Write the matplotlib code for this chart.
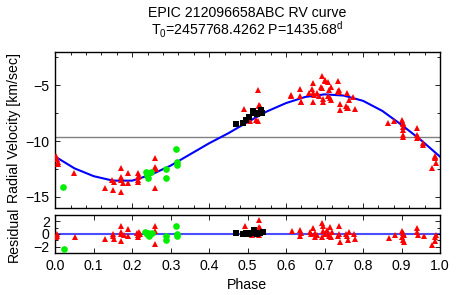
import numpy as np
import matplotlib
matplotlib.use("Agg")
from matplotlib import pyplot as plt
from matplotlib.ticker import MultipleLocator

plt.rcParams['font.family'] = ['Liberation Sans', 'DejaVu Sans']
plt.rcParams['mathtext.fontset'] = 'custom'
plt.rcParams['mathtext.rm'] = 'Liberation Sans'
plt.rcParams['mathtext.it'] = 'Liberation Sans:italic'

# model curve
model_phase = [0.00, 0.05, 0.10, 0.15, 0.20, 0.25, 0.30, 0.35, 0.40, 0.45, 0.50,
               0.55, 0.60, 0.65, 0.70, 0.75, 0.80, 0.85, 0.90, 0.95, 1.00]
model_rv = [-11.4, -12.45, -13.15, -13.55, -13.55, -13.0, -12.2, -11.2, -10.2, -9.3, -8.3,
            -7.35, -6.6, -6.05, -5.82, -5.93, -6.4, -7.3, -8.55, -9.9, -11.4]
gamma = -9.68

# red triangles
red_phase = [0.003, 0.005, 0.006, 0.008, 0.049, 0.129, 0.147, 0.151, 0.152, 0.170, 0.170,
             0.172, 0.170, 0.177, 0.190, 0.190, 0.216, 0.215, 0.215, 0.215, 0.218, 0.259,
             0.260, 0.261, 0.259,
             0.491, 0.506, 0.523, 0.526, 0.528, 0.529, 0.530, 0.532,
             0.613, 0.614, 0.636, 0.636, 0.638, 0.638, 0.660, 0.667, 0.669, 0.671, 0.671,
             0.672, 0.680, 0.685, 0.692, 0.693, 0.694, 0.695, 0.695, 0.700, 0.701, 0.710,
             0.710, 0.712, 0.714, 0.716, 0.716, 0.734, 0.736, 0.737, 0.738, 0.740, 0.740,
             0.755, 0.757, 0.758, 0.762, 0.764, 0.775, 0.779,
             0.866, 0.881, 0.902, 0.903, 0.903, 0.904, 0.903, 0.904, 0.905, 0.939, 0.940,
             0.941, 0.942, 0.955, 0.957, 0.978, 0.986, 0.987, 0.988, 0.989]
red_rv = [-11.3, -11.6, -11.9, -12.1, -12.9, -14.25, -13.45, -14.4, -13.7, -12.46, -13.2,
          -13.45, -14.6, -13.8, -12.85, -13.75, -12.9, -13.2, -13.45, -13.65, -13.1, -11.56,
          -12.3, -12.5, -14.25,
          -7.17, -8.2, -8.12, -8.19, -5.43, -6.78, -6.87, -6.9,
          -5.88, -5.95, -5.37, -5.97, -6.48, -6.54, -5.73, -5.35, -6.48, -4.84, -5.73,
          -5.88, -5.73, -6.0, -5.14, -5.23, -4.18, -6.48, -6.24, -4.6, -4.54, -4.69,
          -6.0, -5.43, -6.18, -5.19, -6.33, -4.6, -5.5, -5.65, -5.43, -6.72, -7.23,
          -6.87, -5.68, -7.08, -7.08, -6.33, -6.09, -7.17,
          -8.42, -8.19, -8.13, -8.37, -8.48, -8.72, -9.02, -9.47, -9.62, -8.87, -9.47,
          -9.77, -9.62, -10.16, -10.37, -12.46, -11.35, -11.56, -11.47, -11.96]

# green circles
green_phase = [0.021, 0.237, 0.238, 0.240, 0.249, 0.288, 0.288, 0.313, 0.316, 0.317]
green_rv = [-14.16, -12.76, -13.06, -13.35, -12.76, -12.55, -13.3, -10.67, -11.92, -12.16]

# black squares
black_phase = [0.470, 0.487, 0.497, 0.504, 0.515, 0.520, 0.525, 0.536, 0.538]
black_rv = [-8.51, -8.37, -8.15, -7.88, -7.29, -7.45, -7.62, -7.23, -7.5]

# residuals
red_res_phase = [0.004, 0.005, 0.003, 0.050, 0.130, 0.149, 0.150, 0.152, 0.172, 0.172,
                 0.171, 0.172, 0.178, 0.190, 0.190, 0.212, 0.215, 0.215, 0.217, 0.219,
                 0.258, 0.260, 0.260,
                 0.492, 0.511, 0.529, 0.530, 0.533, 0.530,
                 0.615, 0.637, 0.639, 0.637, 0.665, 0.663, 0.671, 0.676, 0.680, 0.676,
                 0.693, 0.695, 0.697, 0.700, 0.693, 0.706, 0.709, 0.712, 0.715, 0.719, 0.717,
                 0.737, 0.738, 0.741, 0.735, 0.756, 0.758, 0.761, 0.763, 0.776, 0.778,
                 0.867, 0.882, 0.901, 0.903, 0.906, 0.901, 0.903, 0.906, 0.940, 0.940, 0.943,
                 0.958, 0.988, 0.986, 0.990, 0.979]
red_res = [0.0, -0.36, -0.52, -0.52, -0.78, 0.0, -0.36, -0.78, 1.2, 0.36, 0.0, -1.04,
           -0.16, 0.78, -0.26, 0.16, -0.16, -0.52, 0.36, 0.0,
           1.2, 0.52, -1.55,
           1.2, -0.16, 2.23, 1.04, 0.88, -0.16,
           0.52, 0.67, 0.16, -0.26, 0.0, 0.36, 0.88, -0.52, -0.16, 0.16,
           1.7, 1.2, 0.52, 0.0, -0.52, 0.67, 0.0, -0.36, 1.04, 0.36, -0.52,
           1.3, 0.0, -1.2, -0.36, 0.0, -0.36, -0.88, 0.36, 0.0, -0.78,
           -0.67, -0.16, 0.52, 0.16, -0.16, -0.52, -0.88, -1.2, 0.88, 0.36, -0.16,
           -0.26, -0.52, -1.04, -0.16, -1.7]
green_res_phase = [0.022, 0.234, 0.238, 0.244, 0.251, 0.242, 0.289, 0.289, 0.314, 0.317, 0.317]
green_res = [-2.33, 0.36, 0.0, -0.26, 0.16, 0.16, -0.26, -0.93, 1.3, 0.0, -0.26]
black_res_phase = [0.470, 0.487, 0.496, 0.503, 0.511, 0.516, 0.524, 0.533, 0.539]
black_res = [0.16, 0.0, 0.16, 0.0, 0.16, 0.67, 0.0, 0.16, 0.26]

fs = 10.2
fig = plt.figure(figsize=(4.63, 2.95), dpi=100)
ax = fig.add_axes([0.1194, 0.2949, 0.8309, 0.5298])
axr = fig.add_axes([0.1194, 0.1414, 0.8309, 0.1308])

ax.axhline(gamma, color='#808080', lw=1.0, zorder=1)
ax.plot(model_phase, model_rv, color='#0000ff', lw=1.5, zorder=2)
ax.plot(red_phase, red_rv, '^', color='#ff0000', ms=4.5, mew=0, zorder=3)
ax.plot(green_phase, green_rv, 'o', color='#00ee00', ms=4.8, mew=0, zorder=3)
ax.plot(black_phase, black_rv, 's', color='black', ms=4.3, mew=0, zorder=3)
ax.set_xlim(0, 1)
ax.set_ylim(-16, -2)
ax.xaxis.set_major_locator(MultipleLocator(0.2))
ax.xaxis.set_minor_locator(MultipleLocator(0.04))
ax.set_xticklabels([])
ax.yaxis.set_major_locator(MultipleLocator(5))
ax.yaxis.set_minor_locator(MultipleLocator(2.5))

axr.axhline(0, color='#0000ff', lw=1.5, alpha=0.7, zorder=1)
axr.plot(red_res_phase, red_res, '^', color='#ff0000', ms=4.5, mew=0, zorder=3)
axr.plot(green_res_phase, green_res, 'o', color='#00ee00', ms=4.8, mew=0, zorder=3)
axr.plot(black_res_phase, black_res, 's', color='black', ms=4.3, mew=0, zorder=3)
axr.set_xlim(0, 1)
axr.set_ylim(-3, 3)
axr.yaxis.set_major_locator(MultipleLocator(2))
axr.yaxis.set_minor_locator(MultipleLocator(1))
axr.set_xticks(np.arange(0, 1.01, 0.1))
axr.set_xticklabels(['%.1f' % v for v in np.arange(0, 1.01, 0.1)])

for a in (ax, axr):
    a.tick_params(which='both', direction='in', top=True, right=True, labelsize=fs,
                  width=0.6, pad=4)
    a.tick_params(which='major', length=3.5)
    a.tick_params(which='minor', length=2)
    for s in a.spines.values():
        s.set_linewidth(1.0)

fig.text(0.534, 0.957, 'EPIC 212096658ABC RV curve', ha='center', va='center', fontsize=fs)
fig.text(0.534, 0.899, r'T$_{\mathregular{0}}$=2457768.4262 P=1435.68$^{\mathregular{d}}$',
         ha='center', va='center', fontsize=fs)
fig.text(0.030, 0.566, 'Radial Velocity [km/sec]', rotation=90, ha='center', va='center',
         fontsize=fs)
fig.text(0.030, 0.205, 'Residual', rotation=90, ha='center', va='center', fontsize=fs)
fig.text(0.534, 0.035, 'Phase', ha='center', va='center', fontsize=fs)

fig.savefig('out.png', dpi=100)
